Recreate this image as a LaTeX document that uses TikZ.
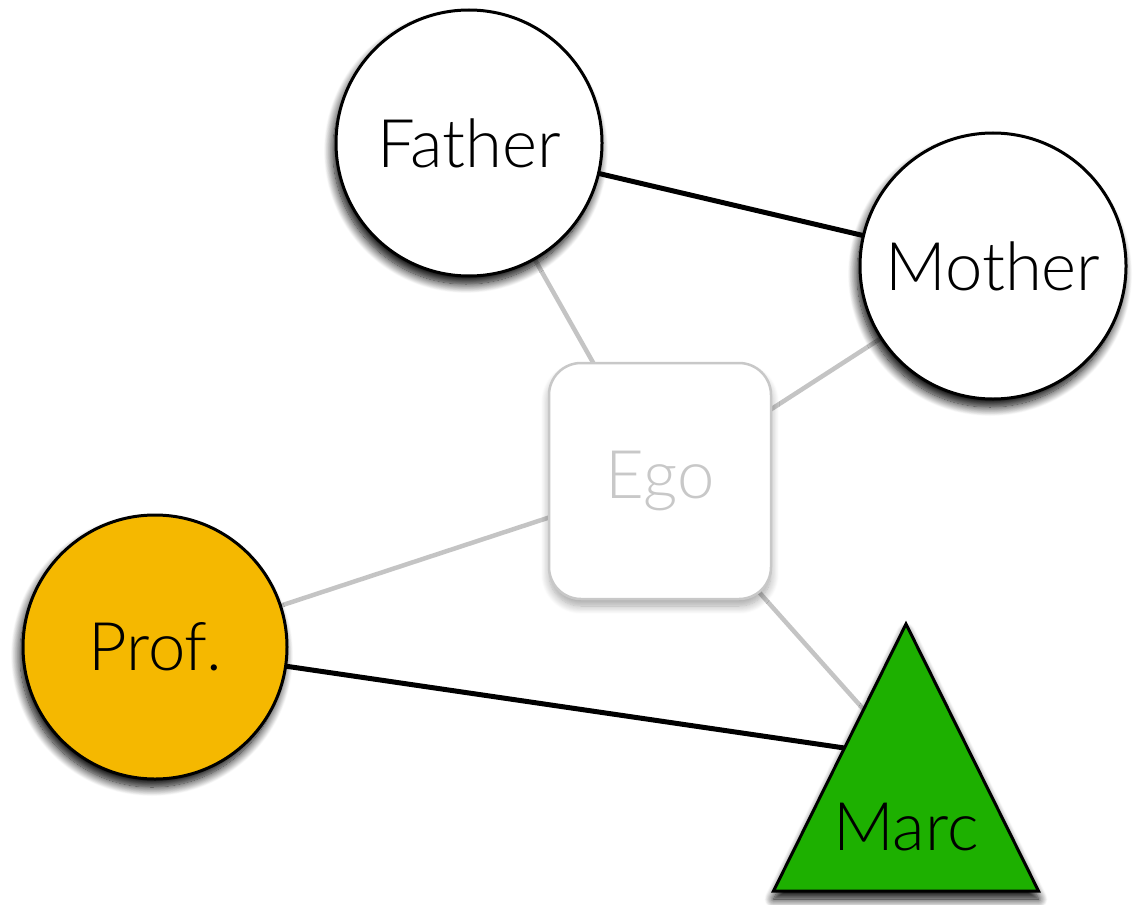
\documentclass[tikz,border=0pt]{standalone}
\usepackage{fontspec}
\setmainfont{Lato Light}
\usetikzlibrary{shadows.blur,backgrounds,calc}
\definecolor{edgegray}{HTML}{C4C4C4}
\definecolor{egogray}{HTML}{C8C8C8}
\definecolor{profyellow}{HTML}{F5B800}
\definecolor{marcgreen}{HTML}{1DB000}
\tikzset{
  bigtext/.style={font=\fontsize{67}{75}\selectfont},
  darkshadow/.style={blur shadow={shadow xshift=-3pt, shadow yshift=-8pt,
      shadow blur steps=14, shadow blur radius=9pt, shadow opacity=100}},
  person/.style={circle, draw=black, line width=3pt, fill=white,
    minimum size=266pt, inner sep=0pt, bigtext, darkshadow},
  egobox/.style={rectangle, rounded corners=32pt, draw=egogray, line width=2.5pt,
    fill=white, minimum width=222pt, minimum height=236pt, inner sep=0pt,
    text=egogray, bigtext,
    blur shadow={shadow xshift=0pt, shadow yshift=-7pt, shadow blur steps=10,
      shadow blur radius=8pt, shadow opacity=35}},
  strongtie/.style={line width=5pt, black},
  weaktie/.style={line width=4.5pt, edgegray},
  tri/.style={draw=black, line width=3pt, line join=miter, fill=marcgreen,
    blur shadow={shadow xshift=0pt, shadow yshift=-8pt, shadow blur steps=14,
      shadow blur radius=9pt, shadow opacity=100}},
  lbl/.style={bigtext, inner sep=0pt}
}
\begin{document}
\begin{tikzpicture}[x=1pt, y=-1pt]
  \useasboundingbox (0,0) rectangle (1139,904);

  % nodes
  \node[person] (father) at (469,143) {Father};
  \node[person] (mother) at (993,266) {Mother};
  \node[egobox] (ego) at (660,481) {Ego};
  \node[person, fill=profyellow, minimum size=264pt] (prof) at (155,647) {Prof.};

  % Marc: triangle drawn around the centre of its box
  \coordinate (marc) at (906,757);
  \draw[tri] ($(marc)+(0,-133)$) -- ($(marc)+(132.5,134)$) -- ($(marc)+(-132.5,134)$) -- cycle;
  \node[lbl] (marclabel) at ($(marc)+(0,70)$) {Marc};

  % ties, drawn centre to centre underneath the nodes
  \begin{pgfonlayer}{background}
    \draw[strongtie] (father.center) -- (mother.center);
    \draw[strongtie] (prof.center) -- (marc);
    \draw[weaktie] (father.center) -- (ego.center);
    \draw[weaktie] (mother.center) -- (ego.center);
    \draw[weaktie] (prof.center) -- (ego.center);
    \draw[weaktie] (ego.center) -- (marc);
  \end{pgfonlayer}
\end{tikzpicture}
\end{document}
